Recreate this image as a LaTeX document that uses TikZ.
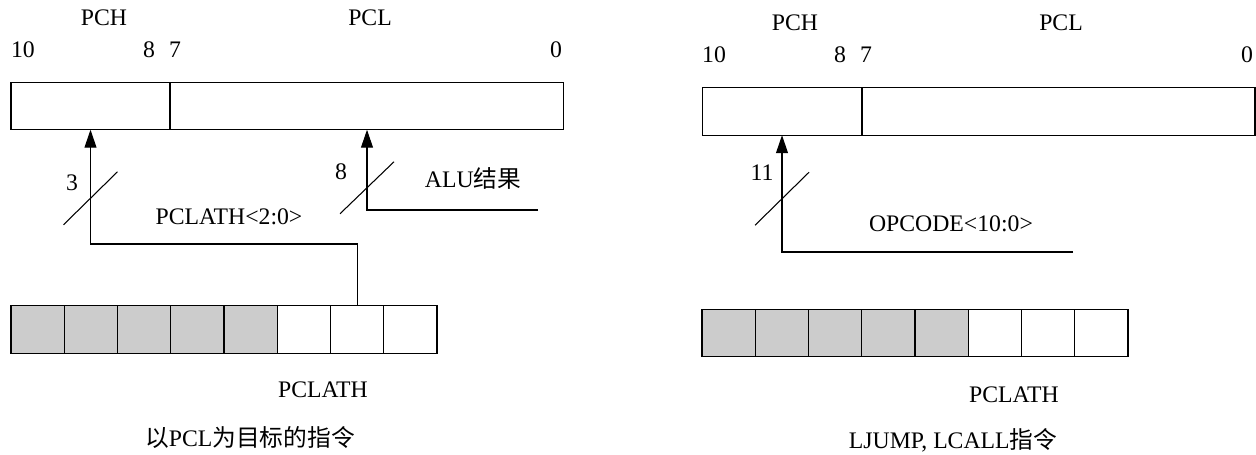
\documentclass[tikz,border=0pt]{standalone}
\usepackage{fontspec}
\setmainfont{Liberation Serif}
\newfontfamily\cjk{Noto Sans CJK SC}
\usetikzlibrary{arrows.meta,positioning}

\begin{document}
\begin{tikzpicture}[x=0.02cm,y=-0.02cm,line width=0.6pt,font=\fontsize{13.5}{15}\selectfont,
  regbox/.style={rectangle,draw=black,inner sep=0,outer sep=0,minimum height=0.95cm},
  cell/.style={rectangle,draw=black,fill=white,inner sep=0,outer sep=0,minimum width=1.065cm,minimum height=0.95cm},
  greycell/.style={cell,fill=gray!40},
  arr/.style={-{Triangle[length=3.6mm,width=2.4mm]}}]

\useasboundingbox (0,0) rectangle (1256,454);

% left: instructions with PCL as destination
\node[regbox,minimum width=3.18cm] (lpch) at (90.5,106) {};
\node[regbox,minimum width=7.88cm] (lpcl) at (367,106) {};
\node (lpchlab) at (104,18) {PCH};
\node (lpcllab) at (370,18) {PCL};
\node (lten) at (23,50) {10};
\node (leight) at (149,50) {8};
\node (lseven) at (175,50) {7};
\node (lzero) at (556,50) {0};

\foreach \i in {1,...,5}
  \node[greycell] (lc\i) at ({11+53.25*(\i-0.5)},329.5) {};
\foreach \i in {6,7,8}
  \node[cell] (lc\i) at ({11+53.25*(\i-0.5)},329.5) {};

\coordinate (lrow) at (0,244);
\coordinate (alu) at (538,210);
\draw[arr] (lc7.north) |- (lpch.south |- lrow) -- (lpch.south);
\draw[arr] (alu) -| (lpcl.south);
\draw (lpch.south) ++(-27,95) -- ++(54,-53);
\draw (lpcl.south) ++(-27,84) -- ++(54,-52);

\node (lthree) at (72,183) {3};
\node (lalubits) at (341,172) {8};
\node (lalu) at (473,178) {ALU{\cjk 结果}};
\node (lsrc) at (229,217) {PCLATH<2:0>};
\node (lpclath) at (323,390) {PCLATH};
\node (ltitle) at (250,437) {{\cjk 以}PCL{\cjk 为目标的指令}};

% right: LJUMP, LCALL
\node[regbox,minimum width=3.2cm] (rpch) at (782,111.5) {};
\node[regbox,minimum width=7.86cm] (rpcl) at (1058.5,111.5) {};
\node (rpchlab) at (795,23) {PCH};
\node (rpcllab) at (1061,23) {PCL};
\node (rten) at (714,55) {10};
\node (reight) at (840,55) {8};
\node (rseven) at (866,55) {7};
\node (rzero) at (1247,55) {0};

\foreach \i in {1,...,5}
  \node[greycell] (rc\i) at ({702+53.25*(\i-0.5)},333) {};
\foreach \i in {6,7,8}
  \node[cell] (rc\i) at ({702+53.25*(\i-0.5)},333) {};

\coordinate (opc) at (1073,252);
\draw[arr] (opc) -| (rpch.south);
\draw (rpch.south) ++(-27,90) -- ++(54,-53);

\node (releven) at (762,173) {11};
\node (rsrc) at (951,224) {OPCODE<10:0>};
\node (rpclath) at (1014,395) {PCLATH};
\node (rtitle) at (953,440) {LJUMP, LCALL{\cjk 指令}};

\end{tikzpicture}
\end{document}
